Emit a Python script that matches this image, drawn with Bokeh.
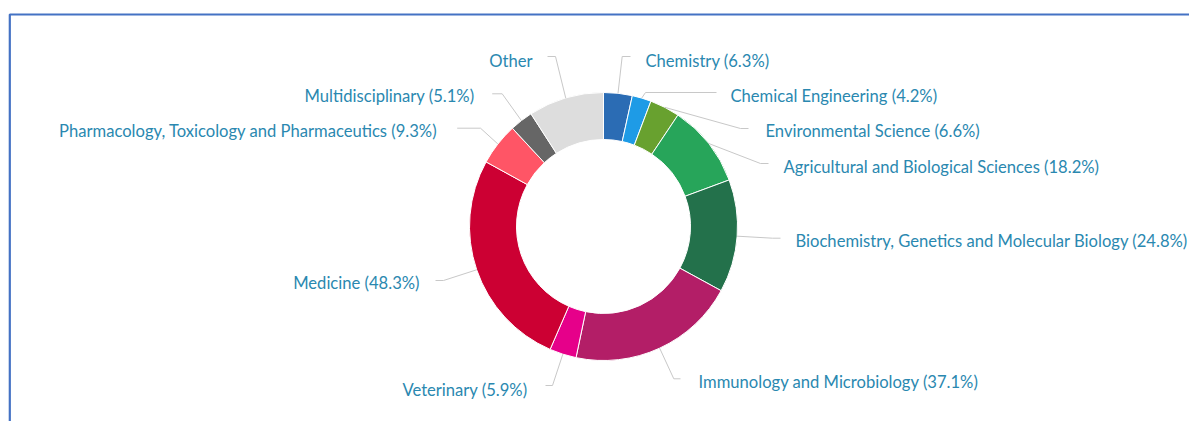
import math
from bokeh.plotting import figure
from bokeh.models import Range1d, ColumnDataSource
from bokeh.core.properties import value
from bokeh.embed import file_html
from bokeh.resources import INLINE

# ---------------- data ----------------
categories = [
    "Chemistry", "Chemical Engineering", "Environmental Science",
    "Agricultural and Biological Sciences",
    "Biochemistry, Genetics and Molecular Biology",
    "Immunology and Microbiology", "Veterinary", "Medicine",
    "Pharmacology, Toxicology and Pharmaceutics", "Multidisciplinary", "Other",
]
percentages = [6.3, 4.2, 6.6, 18.2, 24.8, 37.1, 5.9, 48.3, 9.3, 5.1, 16.6]
show_pct = [True, True, True, True, True, True, True, True, True, True, False]
colors = ["#2B6CB4", "#1E9BE6", "#68A12F", "#27A55A", "#23714B",
          "#B31E67", "#E6008A", "#CC0033", "#FF5566", "#666666", "#DDDDDD"]

# ---------------- layout ----------------
W, H = 1189, 421


def Y(y_img):
    return H - y_img


CX, CY = 603, Y(226)
R_OUT, R_IN = 134, 87

# label layout (page coordinates): anchor x, anchor y, align, leader start x, leader y, break x
label_layout = [
    (645, 60, "left", 630, 56, 621.7),
    (730, 95.5, "left", 716, 92, 645),
    (765, 130, "left", 748, 128, 740),
    (783, 166, "left", 768, 163, 760),
    (795, 240, "left", 780, 237.7, 772),
    (698, 381, "left", 680, 378.3, 673.3),
    (527, 389, "right", 545, 385, 552),
    (419, 282, "right", 435, 280, 443),
    (437, 130.5, "right", 456.7, 127.7, 480),
    (474, 95.5, "right", 491.7, 93.3, 501.7),
    (532, 60, "right", 547, 56, 555),
]

p = figure(width=W, height=H, output_backend="svg", toolbar_location=None,
           x_range=Range1d(0, W), y_range=Range1d(0, H),
           min_border=0, min_border_left=0, min_border_right=0,
           min_border_top=0, min_border_bottom=0)
p.axis.visible = False
p.grid.visible = False
p.outline_line_color = None
p.background_fill_color = "white"
p.border_fill_color = "white"

# frame border (blue)
p.line(x=[9.3, 9.3, W], y=[0, Y(14), Y(14)], line_color="#4472C4", line_width=2.2)

# wedges
total = sum(percentages)
starts, ends, mids = [], [], []
acc = 0.0
for v in percentages:
    a0 = acc / total * 2 * math.pi
    acc += v
    a1 = acc / total * 2 * math.pi
    starts.append(math.pi / 2 - a0)
    ends.append(math.pi / 2 - a1)
    mids.append((a0 + a1) / 2)

src = ColumnDataSource(dict(start=starts, end=ends, color=colors))
p.annular_wedge(x=CX, y=CY, inner_radius=R_IN, outer_radius=R_OUT,
                start_angle="start", end_angle="end", direction="clock",
                fill_color="color", line_color="white", line_width=1, source=src)

# leader lines
xs, ys = [], []
for m, (lx, ly, al, sx, sy, bx) in zip(mids, label_layout):
    tx = CX + R_OUT * math.sin(m)
    ty = CY + R_OUT * math.cos(m)
    xs.append([sx, bx, tx])
    ys.append([Y(sy), Y(sy), ty])
p.multi_line(xs=xs, ys=ys, line_color="#C8C8C8", line_width=1)

# labels
for align in ("left", "right"):
    tx, ty, tt = [], [], []
    for cat, v, sp, (lx, ly, al, sx, sy, bx) in zip(categories, percentages, show_pct, label_layout):
        if al != align:
            continue
        tx.append(lx)
        ty.append(Y(ly))
        tt.append(f"{cat} ({v}%)" if sp else cat)
    p.text(x=tx, y=ty, text=tt, text_align=align, text_baseline="middle",
           text_font=value("Lato"), text_font_size="16.6px", text_color="#2A88B0")

open("out.html", "w").write(file_html(p, INLINE))
